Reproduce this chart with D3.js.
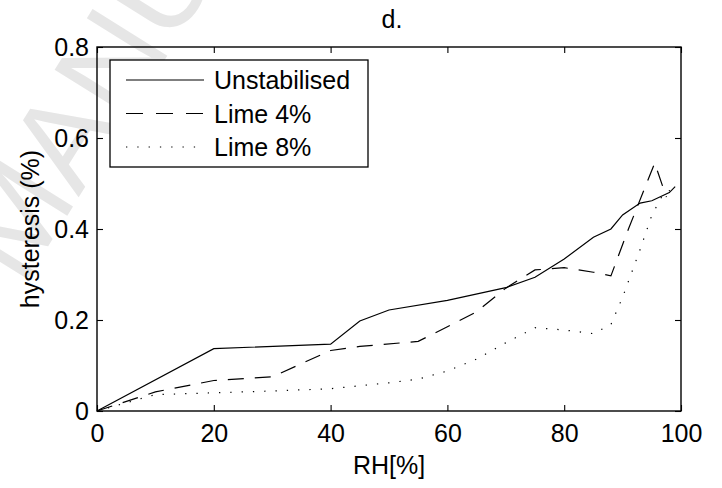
<!DOCTYPE html>
<html>
<head>
<meta charset="utf-8">
<script src="https://cdn.jsdelivr.net/npm/d3@7"></script>
<style>
  html, body { margin: 0; padding: 0; background: #fff; }
  svg { display: block; }
  text { font-family: "Liberation Sans", Arial, Helvetica, sans-serif; }
</style>
</head>
<body>
<svg id="chart" width="722" height="488"></svg>
<script>
// ---- data ----
const unstabRH   = [0, 20, 40, 45, 50, 60, 70, 75, 80, 85, 88, 90, 93, 95, 98, 99];
const unstabVal  = [0, 0.137, 0.147, 0.198, 0.222, 0.243, 0.271, 0.294, 0.334, 0.382, 0.400, 0.431, 0.457, 0.462, 0.480, 0.493];
const lime4RH    = [0, 10, 20, 30, 40, 45, 55, 60, 65, 70, 75, 80, 85, 88, 91, 95.5, 97.5];
const lime4Val   = [0, 0.042, 0.067, 0.075, 0.133, 0.142, 0.153, 0.185, 0.218, 0.270, 0.310, 0.315, 0.305, 0.297, 0.400, 0.545, 0.470];
const lime8RH    = [0, 10, 20, 30, 40, 50, 55, 60, 65, 70, 75, 80, 85, 88, 90, 93, 95, 97, 99];
const lime8Val   = [0, 0.036, 0.040, 0.044, 0.049, 0.062, 0.070, 0.088, 0.114, 0.150, 0.183, 0.178, 0.170, 0.190, 0.250, 0.355, 0.430, 0.478, 0.490];
const seriesNames = ["Unstabilised", "Lime 4%", "Lime 8%"];
const xTicks = [0, 20, 40, 60, 80, 100];
const yTicks = [0, 0.2, 0.4, 0.6, 0.8];
const yTickLabels = ["0", "0.2", "0.4", "0.6", "0.8"];
const titleText = "d.";
const xLabel = "RH[%]";
const yLabel = "hysteresis (%)";
const watermark = "MANUSCRIPT";

// ---- layout ----
const svg = d3.select("#chart");
const L = 97, R = 681, T = 47, B = 411;
const x = d3.scaleLinear().domain([0, 100]).range([L, R]);
const y = d3.scaleLinear().domain([0, 0.8]).range([B, T]);
const FS = 25;

// watermark (faint, partly outside the page as in the reference)
svg.append("text")
  .attr("transform", "translate(22,288) rotate(-58)")
  .attr("font-size", 128)
  .attr("fill", "#e6e6e6")
  .text(watermark);

// lines
const series = [
  { name: seriesNames[0], rh: unstabRH, v: unstabVal, dash: null },
  { name: seriesNames[1], rh: lime4RH, v: lime4Val, dash: "16,11" },
  { name: seriesNames[2], rh: lime8RH, v: lime8Val, dash: "1.3,10" }
];
const line = d3.line().x(d => x(d[0])).y(d => y(d[1]));
series.forEach(s => {
  svg.append("path")
    .attr("d", line(s.rh.map((r, i) => [r, s.v[i]])))
    .attr("fill", "none")
    .attr("stroke", "#000")
    .attr("stroke-width", 1.2)
    .attr("stroke-dasharray", s.dash);
});

// axes
function styleAxis(g, labels) {
  g.select(".domain").remove();
  g.selectAll("line").attr("stroke", "#000").attr("stroke-width", 1.1);
  g.selectAll("text").attr("font-size", FS).attr("fill", "#000")
    .attr("font-family", "'Liberation Sans', Arial, sans-serif");
  if (!labels) g.selectAll("text").remove();
}
const gx = svg.append("g").attr("transform", `translate(0,${B})`)
  .call(d3.axisBottom(x).tickValues(xTicks).tickSizeInner(-6).tickSizeOuter(0).tickPadding(13));
styleAxis(gx, true);
const gxt = svg.append("g").attr("transform", `translate(0,${T})`)
  .call(d3.axisTop(x).tickValues(xTicks).tickSizeInner(-6).tickSizeOuter(0));
styleAxis(gxt, false);
const gy = svg.append("g").attr("transform", `translate(${L},0)`)
  .call(d3.axisLeft(y).tickValues(yTicks).tickFormat((d, i) => yTickLabels[i]).tickSizeInner(-6).tickSizeOuter(0).tickPadding(8));
styleAxis(gy, true);
const gyr = svg.append("g").attr("transform", `translate(${R},0)`)
  .call(d3.axisRight(y).tickValues(yTicks).tickSizeInner(-6).tickSizeOuter(0));
styleAxis(gyr, false);

// box
svg.append("rect").attr("x", L).attr("y", T).attr("width", R - L).attr("height", B - T)
  .attr("fill", "none").attr("stroke", "#000").attr("stroke-width", 1.4);

// labels
svg.append("text").attr("x", 392).attr("y", 28).attr("text-anchor", "middle")
  .attr("font-size", FS).text(titleText);
svg.append("text").attr("x", (L + R) / 2).attr("y", 474).attr("text-anchor", "middle")
  .attr("font-size", FS).text(xLabel);
svg.append("text").attr("transform", `translate(39,${(T + B) / 2}) rotate(-90)`)
  .attr("text-anchor", "middle").attr("font-size", FS).text(yLabel);

// legend
const lg = svg.append("g");
lg.append("rect").attr("x", 110).attr("y", 60).attr("width", 258).attr("height", 107)
  .attr("fill", "#fff").attr("stroke", "#000").attr("stroke-width", 1.3);
series.forEach((s, i) => {
  const cy = 80 + i * 33.5;
  lg.append("line").attr("x1", 126).attr("x2", 204).attr("y1", cy).attr("y2", cy)
    .attr("stroke", "#000").attr("stroke-width", 1.2)
    .attr("stroke-dasharray", i === 1 ? "17,13" : (i === 2 ? "1.3,10" : null));
  lg.append("text").attr("x", 214).attr("y", cy + 9).attr("font-size", FS).text(s.name);
});
</script>
</body>
</html>
